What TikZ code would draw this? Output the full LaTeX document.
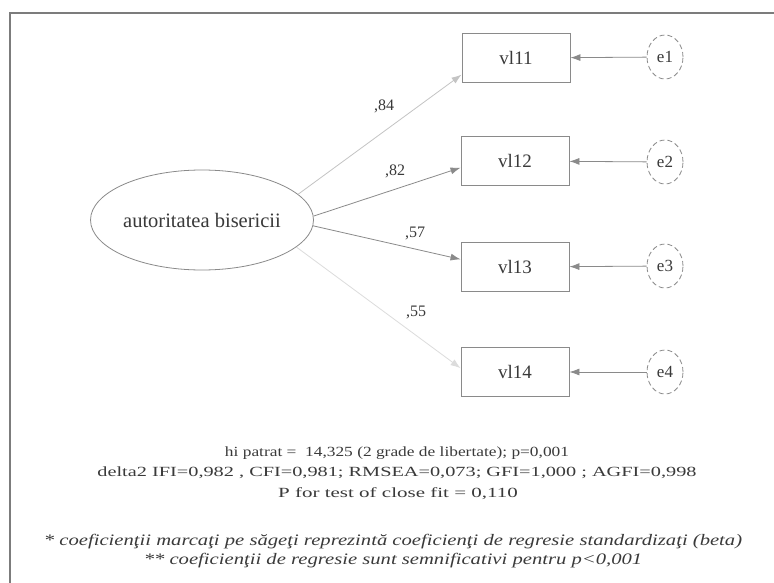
\documentclass[tikz,border=0pt]{standalone}
\usepackage{fontspec}
\setmainfont{Liberation Serif}
\usetikzlibrary{arrows.meta,shapes.geometric}
\definecolor{ink}{HTML}{3A3A3A}
\definecolor{linegray}{HTML}{8A8A8A}
\definecolor{palegray}{HTML}{C4C4C4}
\tikzset{
  frameline/.style={draw=linegray!90!black, line width=1.6pt},
  latent/.style={ellipse, draw=linegray, line width=0.8pt, minimum width=181pt, minimum height=100pt, inner sep=0pt, text=ink, font=\fontsize{20.5}{22}\selectfont},
  obs/.style={rectangle, draw=linegray, line width=0.9pt, minimum width=108pt, minimum height=49pt, inner sep=0pt, text=ink, font=\fontsize{19}{21}\selectfont},
  err/.style={ellipse, draw=linegray, dashed, dash pattern=on 5pt off 3pt, line width=0.8pt, minimum width=36pt, minimum height=44pt, inner sep=0pt, text=ink, font=\fontsize{17}{19}\selectfont},
  coef/.style={text=ink, inner sep=0pt, font=\fontsize{16}{18}\selectfont},
  stat/.style={text=ink, inner sep=0pt, font=\fontsize{14}{16}\selectfont},
  note/.style={text=ink, inner sep=0pt, font=\fontsize{16}{18}\selectfont\itshape},
  tip/.style={-{Latex[length=10pt,width=7pt]}, color=ink},
  load/.style={tip, draw=linegray, line width=0.8pt},
  faintload/.style={tip, draw=palegray, line width=0.8pt},
  erredge/.style={tip, draw=linegray, line width=0.8pt}
}
\begin{document}
\begin{tikzpicture}[x=1pt,y=-1pt]
\useasboundingbox (0,0) rectangle (774,583);
\fill[white] (0,0) rectangle (774,583);
\draw[frameline] (10,583) -- (10,13) -- (774,13);

\node[latent] (a) at (202,220) {autoritatea bisericii};

\node[obs] (v1) at (516,58) {vl11};
\node[obs] (v2) at (515,161) {vl12};
\node[obs] (v3) at (515,267) {vl13};
\node[obs] (v4) at (515,372) {vl14};

\node[err] (e1) at (665,57) {e1};
\node[err] (e2) at (665,162) {e2};
\node[err] (e3) at (665,266) {e3};
\node[err] (e4) at (665,372) {e4};

\draw[faintload] (a.15) -- (v1.197);
\draw[load] (a.2) -- (v2.187);
\draw[load] (a.-3) -- (v3.172);
\draw[faintload, draw=palegray!60] (a.-16) -- (v4.176);

\draw[erredge] (e1) -- (v1);
\draw[erredge] (e2) -- (v2);
\draw[erredge] (e3) -- (v3);
\draw[erredge] (e4) -- (v4);

\node[coef] (c1) at (384,106) {,84};
\node[coef] (c2) at (395,171) {,82};
\node[coef] (c3) at (415,233) {,57};
\node[coef] (c4) at (416,312) {,55};

\node[stat] (s1) at (397,453) {\scalebox{1.24}[1]{hi patrat =\ \ 14,325 (2 grade de libertate); p=0,001}};
\node[stat] (s2) at (397,473) {\scalebox{1.45}[1]{delta2 IFI=0,982 , CFI=0,981; RMSEA=0,073; GFI=1,000 ; AGFI=0,998}};
\node[stat] (s3) at (398,494) {\scalebox{1.5}[1]{P for test of close fit = 0,110}};

\node[note] (n1) at (393,542) {\scalebox{1.29}[1]{* coeficienţii marcaţi pe săgeţi reprezintă coeficienţi de regresie standardizaţi (beta)}};
\node[note] (n2) at (393,561) {\scalebox{1.29}[1]{** coeficienţii de regresie sunt semnificativi pentru p<0,001}};
\end{tikzpicture}
\end{document}
